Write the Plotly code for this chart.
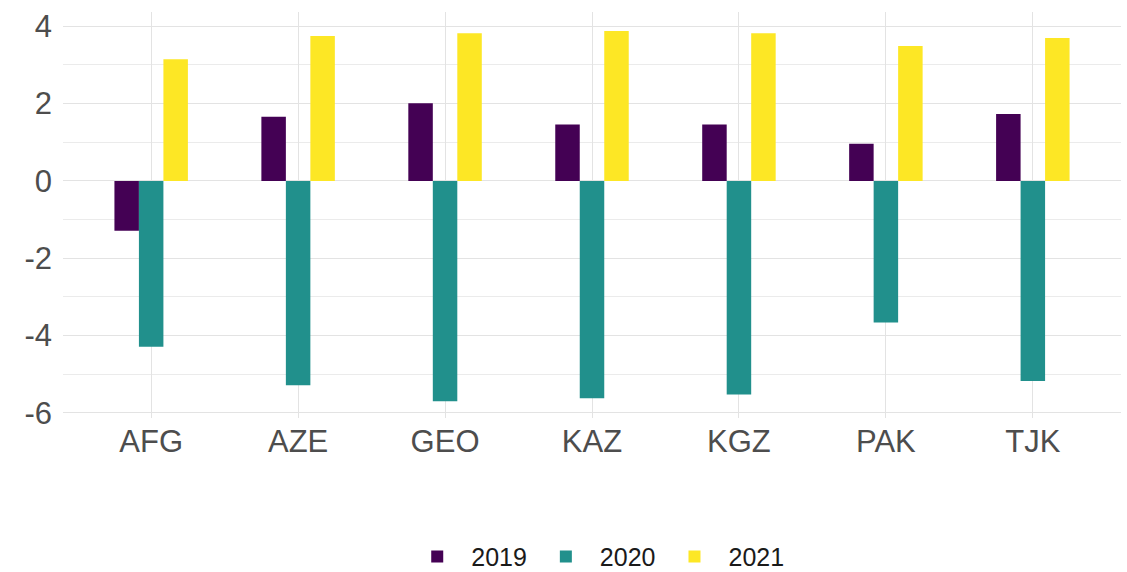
import plotly.graph_objects as go

countries = ["AFG", "AZE", "GEO", "KAZ", "KGZ", "PAK", "TJK"]
years = ["2019", "2020", "2021"]
v2019 = [-1.29, 1.66, 2.01, 1.46, 1.46, 0.96, 1.73]
v2020 = [-4.29, -5.28, -5.70, -5.62, -5.52, -3.66, -5.17]
v2021 = [3.15, 3.75, 3.82, 3.88, 3.82, 3.49, 3.70]
y_tickvals = [-6, -4, -2, 0, 2, 4]
y_ticktext = ["-6", "-4", "-2", "0", "2", "4"]
colors = ["#440154", "#21908C", "#FDE725"]

fig = go.Figure()
for name, vals, col in zip(years, [v2019, v2020, v2021], colors):
    fig.add_trace(go.Bar(x=countries, y=vals, name=name,
                         marker=dict(color=col, line=dict(width=0))))

font = "Liberation Sans, Arial, sans-serif"
fig.update_layout(
    width=1127, height=572,
    barmode="group", bargap=0.5, bargroupgap=0,
    plot_bgcolor="white", paper_bgcolor="white",
    margin=dict(l=63, r=6, t=12, b=154, autoexpand=False),
    font=dict(family=font),
    showlegend=True,
    legend=dict(orientation="h", x=0.504, xanchor="center", y=-0.342, yanchor="middle",
                font=dict(size=25, color="#1a1a1a", family=font),
                itemwidth=58, traceorder="normal"),
    xaxis=dict(range=[-0.6, 6.6], showgrid=True, gridcolor="#e3e3e3", gridwidth=1.1,
               tickfont=dict(size=31, color="#4d4d4d"), showline=False, zeroline=False,
               ticks="", ticklabelstandoff=2, automargin=False),
    yaxis=dict(range=[-6.13, 4.37], tickvals=y_tickvals, ticktext=y_ticktext, showgrid=True,
               gridcolor="#e3e3e3", gridwidth=1.1, zeroline=True, zerolinecolor="#e3e3e3",
               zerolinewidth=1.1, showline=False, ticks="", automargin=False,
               tickfont=dict(size=31, color="#4d4d4d"), ticklabelstandoff=10,
               minor=dict(dtick=1, tick0=0, showgrid=True, gridcolor="#ebebeb", gridwidth=0.8)),
)
fig.write_html("out.html", config={"displayModeBar": False},
               post_script="document.body.style.margin='0';document.body.style.overflow='hidden';")
